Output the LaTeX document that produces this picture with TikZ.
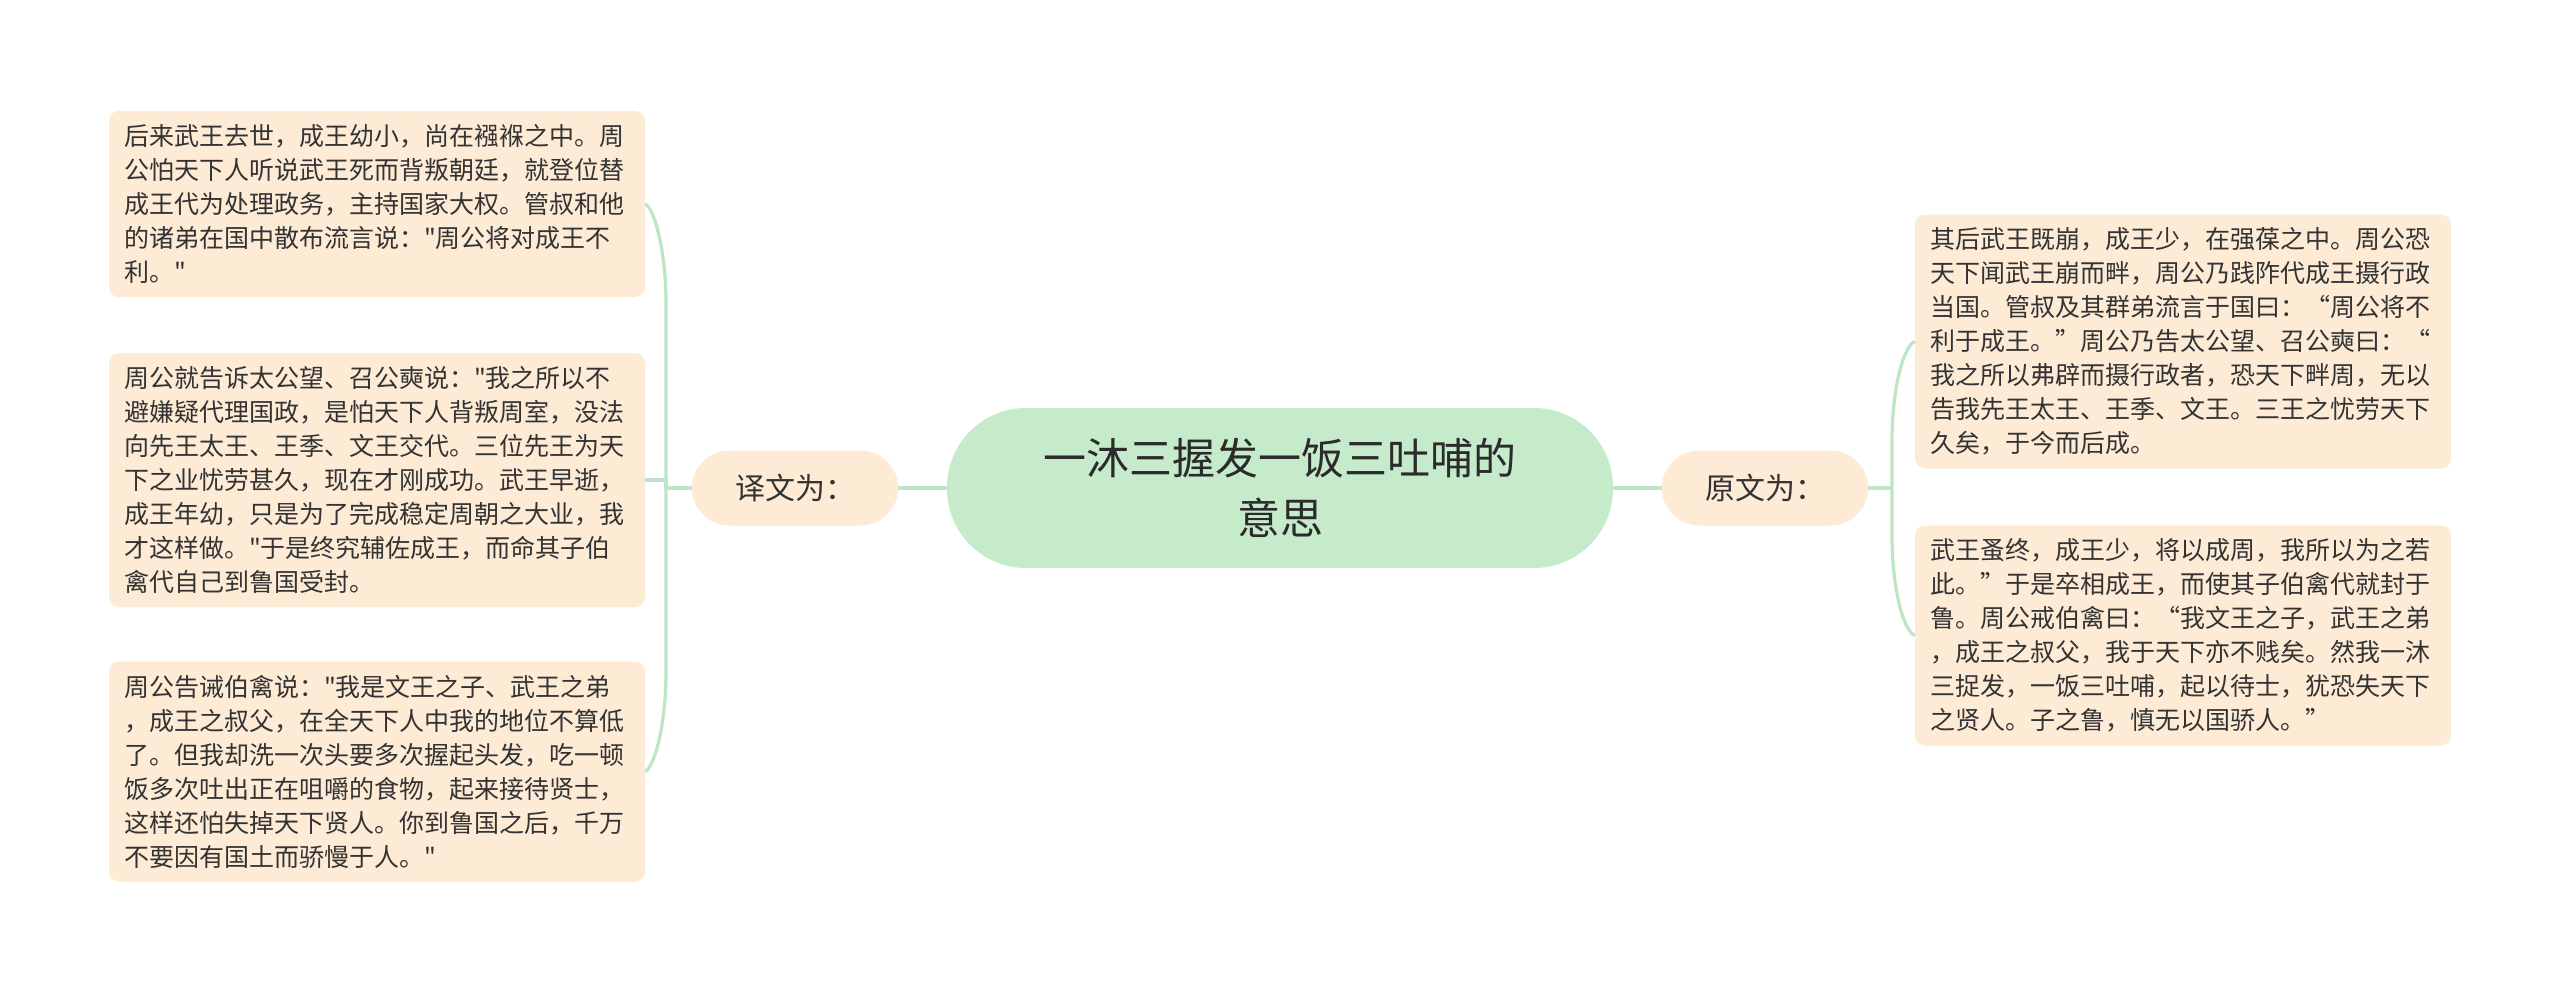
\documentclass[tikz,border=0pt]{standalone}
\usepackage{fontspec}
\newfontfamily\cjk{Noto Sans CJK SC}
\usetikzlibrary{calc}
\definecolor{peach}{HTML}{FDEBD6}
\definecolor{mint}{HTML}{C6EBCB}
\definecolor{linec}{HTML}{BEE6C6}
\definecolor{txt}{HTML}{333333}
\begin{document}
\begin{tikzpicture}[x=1pt,y=-1pt,
  leaf/.style={fill=peach, rounded corners=10pt, text width=506pt, inner xsep=15pt, inner ysep=0pt,
    align=left, font=\cjk\fontsize{25}{34}\selectfont, text=txt},
  rootbox/.style={fill=mint, rounded corners=79pt, minimum width=666pt, minimum height=160pt,
    align=center, font=\cjk\fontsize{43}{60}\selectfont, text=txt!85!black},
  branchbox/.style={fill=peach, rounded corners=37pt, minimum width=206pt, minimum height=75pt,
    font=\cjk\fontsize{30}{36}\selectfont, text=txt},
  conn/.style={draw=linec, line width=3.2pt, line join=round}]
\fill[white] (0,0) rectangle (2560,993);
\useasboundingbox (0,0) rectangle (2560,993);

\node[rootbox] (root) at (1280,488) {一沐三握发一饭三吐哺的\\意思};
\node[branchbox] (yi) at (795,488) {译文为：};
\node[branchbox] (yuan) at (1765,488) {原文为：};

\node[leaf, minimum height=186pt] (l1) at (377,204) {后来武王去世，成王幼小，尚在襁褓之中。周\\公怕天下人听说武王死而背叛朝廷，就登位替\\成王代为处理政务，主持国家大权。管叔和他\\的诸弟在国中散布流言说："周公将对成王不\\利。"};
\node[leaf, minimum height=254pt] (l2) at (377,480) {周公就告诉太公望、召公奭说："我之所以不\\避嫌疑代理国政，是怕天下人背叛周室，没法\\向先王太王、王季、文王交代。三位先王为天\\下之业忧劳甚久，现在才刚成功。武王早逝，\\成王年幼，只是为了完成稳定周朝之大业，我\\才这样做。"于是终究辅佐成王，而命其子伯\\禽代自己到鲁国受封。};
\node[leaf, minimum height=220pt] (l3) at (377,771.5) {周公告诫伯禽说："我是文王之子、武王之弟\\，成王之叔父，在全天下人中我的地位不算低\\了。但我却洗一次头要多次握起头发，吃一顿\\饭多次吐出正在咀嚼的食物，起来接待贤士，\\这样还怕失掉天下贤人。你到鲁国之后，千万\\不要因有国土而骄慢于人。"};

\node[leaf, minimum height=254pt] (r1) at (2183,341.5) {其后武王既崩，成王少，在强葆之中。周公恐\\天下闻武王崩而畔，周公乃践阼代成王摄行政\\当国。管叔及其群弟流言于国曰：“周公将不\\利于成王。”周公乃告太公望、召公奭曰：“\\我之所以弗辟而摄行政者，恐天下畔周，无以\\告我先王太王、王季、文王。三王之忧劳天下\\久矣，于今而后成。};
\node[leaf, minimum height=220pt] (r2) at (2183,635.5) {武王蚤终，成王少，将以成周，我所以为之若\\此。”于是卒相成王，而使其子伯禽代就封于\\鲁。周公戒伯禽曰：“我文王之子，武王之弟\\，成王之叔父，我于天下亦不贱矣。然我一沐\\三捉发，一饭三吐哺，起以待士，犹恐失天下\\之贤人。子之鲁，慎无以国骄人。”};

\coordinate (jl) at (666,488);
\coordinate (jr) at (1892,488);

\draw[conn] (root.west) -- (yi.east);
\draw[conn] (root.east) -- (yuan.west);

\draw[conn] (yi.west) -- (jl) -- ($(jl |- l1.east)+(0,100)$) .. controls ($(jl |- l1.east)+(0,45)$) and ($(jl |- l1.east)+(-12,4)$) .. (l1.east);
\draw[conn] (yi.west) -- (jl) -- (jl |- l2.east) -- (l2.east);
\draw[conn] (yi.west) -- (jl) -- ($(jl |- l3.east)+(0,-100)$) .. controls ($(jl |- l3.east)+(0,-45)$) and ($(jl |- l3.east)+(-12,-4)$) .. (l3.east);

\draw[conn] (yuan.east) -- (jr) -- ($(jr |- r1.west)+(0,100)$) .. controls ($(jr |- r1.west)+(0,45)$) and ($(jr |- r1.west)+(12,4)$) .. (r1.west);
\draw[conn] (yuan.east) -- (jr) -- ($(jr |- r2.west)+(0,-100)$) .. controls ($(jr |- r2.west)+(0,-45)$) and ($(jr |- r2.west)+(12,-4)$) .. (r2.west);
\end{tikzpicture}
\end{document}
